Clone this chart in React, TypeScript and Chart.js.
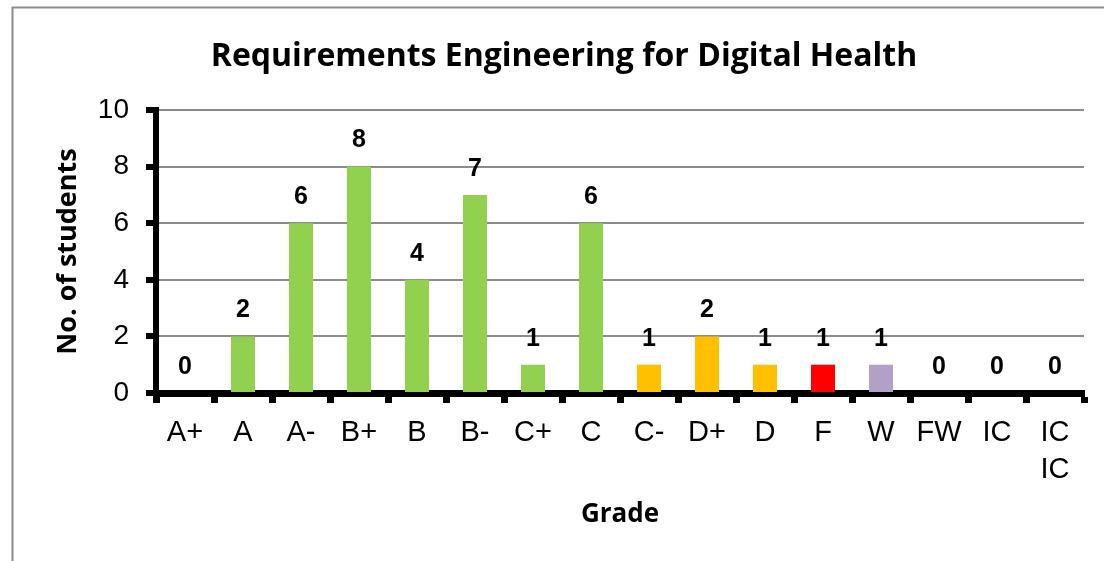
import React, { useEffect, useRef } from "react";
import { Chart, registerables } from "chart.js";

Chart.register(...registerables);

const TITLE = "Requirements Engineering for Digital Health";
const X_TITLE = "Grade";
const Y_TITLE = "No. of students";

const grades: (string | string[])[] = ["A+", "A", "A-", "B+", "B", "B-", "C+", "C", "C-", "D+", "D", "F", "W", "FW", "IC", ["IC", "IC"]];
const counts = [0, 2, 6, 8, 4, 7, 1, 6, 1, 2, 1, 1, 1, 0, 0, 0];

const GREEN = "#92D050";
const ORANGE = "#FFC000";
const RED = "#FF0000";
const PURPLE = "#B2A1C7";
const barColors = [GREEN, GREEN, GREEN, GREEN, GREEN, GREEN, GREEN, GREEN, ORANGE, ORANGE, ORANGE, RED, PURPLE, PURPLE, PURPLE, PURPLE];

const yTicks = [0, 2, 4, 6, 8, 10];

const frameAndLabels = {
  id: "frameAndLabels",
  beforeDraw(chart: any) {
    const ctx = chart.ctx;
    ctx.save();
    ctx.fillStyle = "#ffffff";
    ctx.fillRect(0, 0, chart.width, chart.height);
    ctx.strokeStyle = "#8c8c8c";
    ctx.lineWidth = 2;
    ctx.strokeRect(12.5, 7.5, 1400, 800);
    ctx.restore();
  },
  afterDatasetsDraw(chart: any) {
    const ctx = chart.ctx;
    const meta = chart.getDatasetMeta(0);
    ctx.save();
    ctx.fillStyle = "#000";
    ctx.font = "bold 25px 'Liberation Sans', Arial, sans-serif";
    ctx.textAlign = "center";
    ctx.textBaseline = "middle";
    meta.data.forEach((bar: any, i: number) => {
      ctx.fillText(String(counts[i]), bar.x, bar.y - 26);
    });
    ctx.restore();
  },
};

export default function App() {
  const ref = useRef<HTMLCanvasElement | null>(null);
  useEffect(() => {
    if (!ref.current) return;
    const chart = new Chart(ref.current, {
      type: "bar",
      data: {
        labels: grades,
        datasets: [
          {
            data: counts,
            backgroundColor: barColors,
            borderWidth: 0,
            categoryPercentage: 1,
            barPercentage: 0.414,
          },
        ],
      },
      plugins: [frameAndLabels],
      options: {
        responsive: false,
        animation: false,
        layout: { padding: { left: 44, right: 20, top: 0, bottom: 0 } },
        plugins: {
          legend: { display: false },
          tooltip: { enabled: false },
          title: {
            display: true,
            text: TITLE,
            color: "#000",
            font: { family: "'Open Sans', sans-serif", size: 32, weight: "bold", lineHeight: 1.2 },
            padding: { top: 38, bottom: 33.6 },
          },
        },
        scales: {
          x: {
            type: "category",
            offset: true,
            grid: {
              offset: true,
              display: true,
              drawOnChartArea: false,
              drawTicks: true,
              tickLength: 10,
              tickWidth: 7,
              tickColor: "#000",
            },
            border: { display: true, color: "#000", width: 7 },
            ticks: {
              color: "#000",
              font: { family: "'Liberation Sans', Arial, sans-serif", size: 29, lineHeight: 1.28 },
              padding: 11,
              maxRotation: 0,
              autoSkip: false,
            },
            title: {
              display: true,
              text: X_TITLE,
              color: "#000",
              font: { family: "'Open Sans', sans-serif", size: 26, weight: "bold", lineHeight: 1.2 },
              padding: { top: 0, bottom: 31 },
            },
            afterFit: (s: any) => {
              s.height = 168;
            },
          },
          y: {
            min: 0,
            max: 10,
            afterBuildTicks: (s: any) => {
              s.ticks = yTicks.map((v) => ({ value: v }));
            },
            grid: {
              color: "#8c8c8c",
              lineWidth: 2,
              drawTicks: true,
              tickLength: 10,
              tickWidth: 6,
              tickColor: "#000",
            },
            border: { display: true, color: "#000", width: 6 },
            ticks: {
              color: "#000",
              font: { family: "'Liberation Sans', Arial, sans-serif", size: 28 },
              padding: 17,
            },
            title: {
              display: true,
              text: Y_TITLE,
              color: "#000",
              font: { family: "'Open Sans', sans-serif", size: 27, weight: "bold", lineHeight: 1.2 },
              padding: { top: 8, bottom: 0 },
            },
            afterFit: (s: any) => {
              s.width = 112;
            },
          },
        },
      } as any,
    });
    return () => chart.destroy();
  }, []);
  return (
    <div style={{ position: "fixed", left: 0, top: 0, width: 1104, height: 561 }}>
      <canvas ref={ref} width={1104} height={561} style={{ display: "block" }} />
    </div>
  );
}
